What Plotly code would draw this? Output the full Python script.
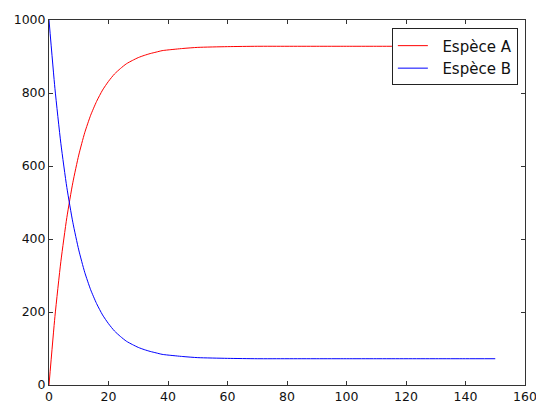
import plotly.graph_objects as go

# Time values (x)
t = [0, 2, 4, 6, 8, 10, 12, 14, 16, 18, 20, 22, 24, 26, 28, 30, 32, 34, 36, 38, 40,
     45, 50, 60, 70, 80, 90, 100, 110, 120, 130, 140, 150]

# Espèce A (red) values
espece_a = [0, 188, 339, 459, 554, 630, 691, 739, 777, 808, 832, 852, 867, 880, 889, 897, 903, 908, 912, 916, 918,
            922, 925, 927, 928, 928, 928, 928, 928, 928, 928, 928, 928]

# Espèce B (blue) values
espece_b = [1000, 812, 661, 541, 446, 370, 309, 261, 223, 192, 168, 148, 133, 120, 111, 103, 97, 92, 88, 84, 82,
            78, 75, 73, 72, 72, 72, 72, 72, 72, 72, 72, 72]

series_names = ["Espèce A", "Espèce B"]

x_ticks = [0, 20, 40, 60, 80, 100, 120, 140, 160]
y_ticks = [0, 200, 400, 600, 800, 1000]

pad = "\u00a0\u00a0"  # gap between legend sample and label, as in the reference

fig = go.Figure()
fig.add_trace(go.Scatter(x=t, y=espece_a, mode="lines", name=pad + series_names[0],
                         line=dict(color="#ff0000", width=1, shape="spline", smoothing=0.6)))
fig.add_trace(go.Scatter(x=t, y=espece_b, mode="lines", name=pad + series_names[1],
                         line=dict(color="#0000ff", width=1, shape="spline", smoothing=0.6)))

axis_common = dict(showline=True, linecolor="#333333", linewidth=1, mirror="ticks",
                   ticks="inside", ticklen=4, tickcolor="#333333", tickwidth=1,
                   showgrid=False, zeroline=False, automargin=False,
                   ticklabeloverflow="allow",
                   tickfont=dict(family="DejaVu Sans", size=12.5, color="#111111"))

fig.update_xaxes(range=[0, 160], tickvals=x_ticks, ticktext=[str(v) for v in x_ticks], **axis_common)
fig.update_yaxes(range=[0, 1000], tickvals=y_ticks, ticktext=[str(v) for v in y_ticks], **axis_common)

fig.update_layout(
    width=536, height=403,
    margin=dict(l=49, r=11, t=20, b=18),
    paper_bgcolor="white", plot_bgcolor="white",
    font=dict(family="DejaVu Sans", size=12, color="#111111"),
    legend=dict(x=0.985, y=0.977, xanchor="right", yanchor="top",
                bgcolor="white", bordercolor="#222222", borderwidth=1,
                font=dict(family="DejaVu Sans", size=15, color="#111111")),
)

fig.write_html("out.html", config={"displayModeBar": False},
               post_script="document.body.style.margin='0';document.body.style.overflow='hidden';")
